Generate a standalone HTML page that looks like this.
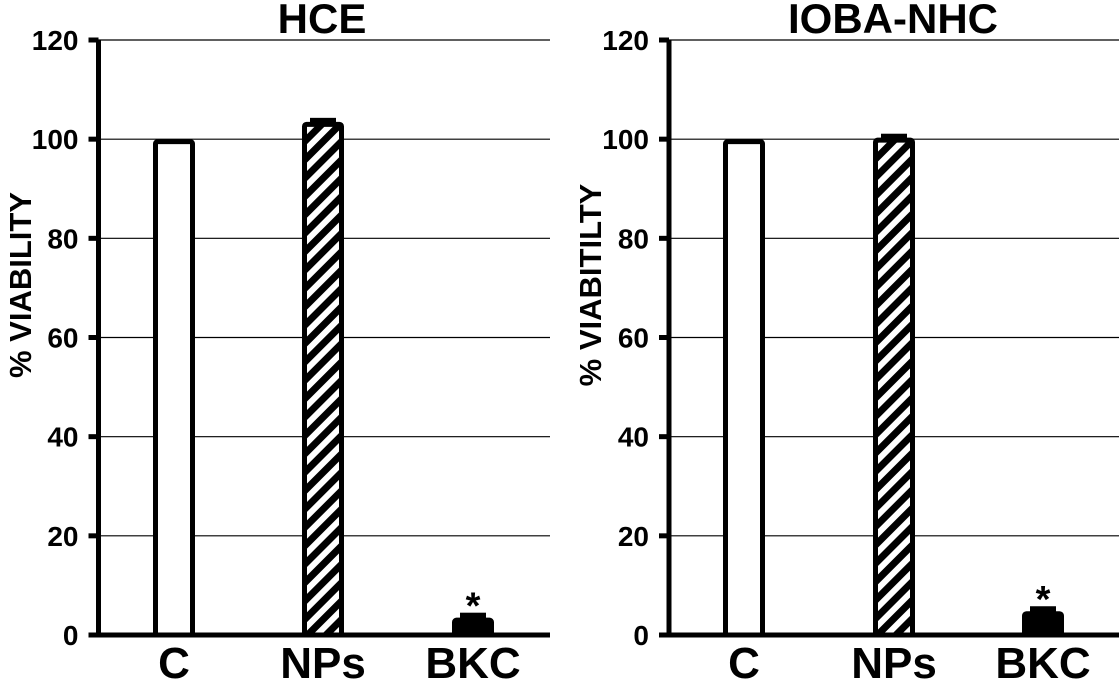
<!DOCTYPE html>
<html><head><meta charset="utf-8"><style>
body{margin:0;background:#fff}
svg{display:block;font-family:"Liberation Sans",Arial,sans-serif;font-weight:bold}
</style></head><body>
<svg id="chart" width="1119" height="683" viewBox="0 0 1119 683" xmlns="http://www.w3.org/2000/svg">
<defs>
<pattern id="hatch" patternUnits="userSpaceOnUse" width="13" height="13" patternTransform="rotate(45)">
<rect width="13" height="13" fill="#fff"/><rect width="7" height="13" fill="#000"/>
</pattern>
</defs>
</svg>
<script>
const categories = ["C","NPs","BKC"];
const hceValues = [100, 103.5, 3.5];
const hceErrors = [0, 0.8, 1.0];
const iobaValues = [100, 100.3, 4.8];
const iobaErrors = [0, 0.8, 1.0];
const yTicks = [0,20,40,60,80,100,120];
const panelTitles = ["HCE","IOBA-NHC"];
const yTitles = ["% VIABILITY","% VIABITILTY"];

const svg = document.getElementById('chart');
const NS = "http://www.w3.org/2000/svg";
function mk(tag, attrs, parent){const e=document.createElementNS(NS,tag);for(const k in attrs)e.setAttribute(k,attrs[k]);(parent||svg).appendChild(e);return e;}
const y0 = 635, y120 = 40;
function yScale(v){return y0 - (v/120)*(y0-y120);}
const panels = [
 {axisX:98.5, right:550, barX:[153,302,452], vals:hceValues, errs:hceErrors, titleX:322, ytX:20},
 {axisX:669, right:1119, barX:[723,873,1022], vals:iobaValues, errs:iobaErrors, titleX:893, ytX:590}
];
const fills = ["#fff","url(#hatch)","#000"];
panels.forEach((p,pi)=>{
  const g = mk('g',{});
  
  
  yTicks.forEach(t=>{
    const y=yScale(t);
    if(t>0){const gl=mk('line',{x1:p.axisX,x2:p.right,y1:y,y2:y,stroke:'#000','stroke-width':1.2},g);
      
      }
    const tk=mk('line',{x1:p.axisX-10,x2:p.axisX,y1:y,y2:y,stroke:'#000','stroke-width':5},g);
    
    
    const tl=mk('text',{x:p.axisX-20,y:y+10,'text-anchor':'end','font-size':28},g);
    tl.textContent=t;
    
    
  });
  p.vals.forEach((v,i)=>{
    const x=p.barX[i], w=42;
    let top=yScale(v);
    if(p.errs[i]>0){
      const ey=yScale(v+p.errs[i]);
      top=ey;
      const eb=mk('rect',{x:x+8,y:ey,width:w-16,height:yScale(v)-ey+2,fill:'#000'},g);
      
      
    }
    const b=mk('rect',{x:x+2.5,y:yScale(v)+2.5,width:w-5,height:y0-yScale(v)-2.5,fill:fills[i],stroke:'#000','stroke-width':5,rx:2},g);
    
    
    const xl=mk('text',{x:x+w/2,y:678,'text-anchor':'middle','font-size':44},g);
    xl.textContent=categories[i];
    
    
    if(i===2){
      const st=mk('text',{x:x+w/2,y:top+6,'text-anchor':'middle','font-size':38},g);
      st.textContent='*';
      
      
    }
  });
  const ax=mk('line',{x1:p.axisX,x2:p.axisX,y1:y120,y2:y0+2,stroke:'#000','stroke-width':5},g);
  
  
  const bx=mk('line',{x1:p.axisX-8,x2:p.right,y1:y0,y2:y0,stroke:'#000','stroke-width':5},g);
  
  
  const tt=mk('text',{x:p.titleX,y:33,'text-anchor':'middle','font-size':42},g);
  tt.textContent=panelTitles[pi];
  
  
  const yt=mk('text',{x:0,y:0,'text-anchor':'middle','font-size':31,transform:`translate(${p.ytX+11},285) rotate(-90)`},g);
  yt.textContent=yTitles[pi];
  
  
});
</script>
</body></html>
